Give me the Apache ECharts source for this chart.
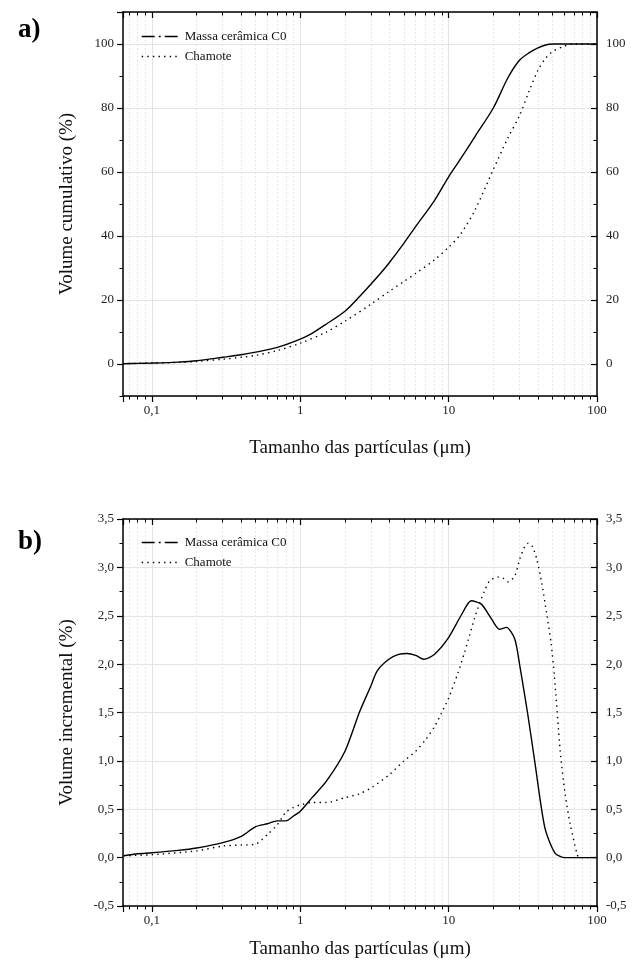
<!DOCTYPE html>
<html><head><meta charset="utf-8">
<script src="https://cdn.jsdelivr.net/npm/echarts@6/dist/echarts.min.js"></script>
<style>html,body{margin:0;padding:0;background:#fff}#c{width:635px;height:966px}</style>
</head><body><div id="c"></div>
<script>
// ---- Data: chart a) cumulative volume (%) ----
const cumC0X = [0.0638,0.08,0.1,0.15,0.2,0.3,0.4,0.5,0.7,1,1.2,1.5,2,2.5,3,3.5,4,5,6,8,10,12,15,20,25,30,35,40,45,50,60,70,100];
const cumC0Y = [0.1,0.2,0.3,0.6,1.0,2.1,2.9,3.7,5.2,7.8,9.6,12.5,16.5,21,25,28.5,31.8,37.8,43,51,58.5,64,71,80,89.3,94.9,97.3,98.8,99.7,100,100,100,100];
const cumChX = [0.0638,0.08,0.1,0.15,0.2,0.3,0.4,0.5,0.7,1,1.5,2,3,4,5,6,8,10,12,15,20,25,30,35,40,45,50,60,70,100];
const cumChY = [0.1,0.2,0.3,0.5,0.8,1.5,2.1,2.7,4.2,6.5,10,13.4,18.7,22.8,25.8,28.3,32.5,36.5,40.5,48,60.8,70.5,77.6,85.5,91.8,95.5,97.6,99.3,100,100];
// ---- Data: chart b) incremental volume (%) ----
const incC0X = [0.0645,0.08,0.1,0.15,0.2,0.3,0.4,0.5,0.6,0.7,0.8,0.9,1,1.2,1.5,2,2.5,3,3.3,3.95,4.6,5.25,6,6.8,8,9.85,12.1,14.2,16.6,19.4,22,24.5,27.9,30.2,34,38,44.5,52,60,100];
const incC0Y = [0.02,0.04,0.05,0.075,0.10,0.155,0.22,0.32,0.35,0.38,0.38,0.43,0.48,0.62,0.79,1.10,1.5,1.78,1.93,2.05,2.10,2.11,2.09,2.05,2.10,2.26,2.50,2.655,2.62,2.47,2.36,2.38,2.26,1.98,1.5,1.0,0.31,0.05,0.0,0.0];
const incChX = [0.0645,0.1,0.2,0.3,0.4,0.5,0.6,0.7,0.8,0.9,1,1.2,1.5,2,2.5,3,4,5,6,7,8,9,10,11.5,12.8,13.8,14.9,16.1,17.5,18.9,21.5,23.2,25.1,27.9,30.2,32.7,34.4,36.6,39.2,42.4,45.7,49,51.6,56.5,61,66,73.6,76,100];
const incChY = [0.02,0.03,0.07,0.12,0.13,0.14,0.24,0.34,0.47,0.52,0.545,0.57,0.57,0.62,0.66,0.72,0.86,1.0,1.10,1.22,1.35,1.5,1.65,1.90,2.12,2.29,2.47,2.62,2.76,2.86,2.90,2.89,2.85,2.91,3.09,3.22,3.25,3.22,3.09,2.84,2.53,2.22,1.88,1.10,0.655,0.345,0.03,0,0];
// ---- Texts ----
const seriesNames = ['Massa cerâmica C0','Chamote'];
const xName = 'Tamanho das partículas (μm)';
const yNameA = 'Volume cumulativo (%)';
const yNameB = 'Volume incremental (%)';
const panelLabels = ['a)','b)'];

const FONT = 'Liberation Serif';
const zip = (xs, ys) => xs.map((x, i) => [x, ys[i]]);
const xFmt = v => { const l = Math.log10(v); if (Math.abs(l - Math.round(l)) > 1e-6) return ''; return v < 1 ? String(+v.toFixed(3)).replace('.', ',') : String(Math.round(v)); };
const BLACK = '#000';

function xAxes(gi, gap) {
  const base = {type:'log', logBase:10, min:0.0638, max:100, gridIndex:gi,
    axisLine:{show:true, onZero:false, lineStyle:{color:BLACK, width:1.5}},
    minorTick:{show:true, splitNumber:9, length:3.5, lineStyle:{color:BLACK, width:1}}};
  return [
    Object.assign({}, base, {position:'bottom', name:xName, nameLocation:'middle', nameGap:gap,
      nameTextStyle:{fontFamily:FONT, fontSize:19, color:'#111'},
      axisTick:{show:true, inside:false, length:6, lineStyle:{color:BLACK, width:1.2}},
      axisLabel:{show:true, showMinLabel:false, formatter:xFmt, fontFamily:FONT, fontSize:13, color:'#222', margin:8},
      splitLine:{show:true, lineStyle:{color:'#e3e3e3', width:1}},
      minorSplitLine:{show:true, lineStyle:{color:'#e6e6e6', width:1, type:[2,2]}}}),
    Object.assign({}, base, {position:'top',
      axisTick:{show:true, inside:true, length:6, lineStyle:{color:BLACK, width:1.2}},
      axisLabel:{show:false}, splitLine:{show:false}})
  ];
}
// main y axes (labels, major ticks, grid lines)
function yAxes(gi, min, max, scaleOpt, name, fmt, minor) {
  const base = Object.assign({type:'value', min, max, gridIndex:gi,
    axisLine:{show:true, lineStyle:{color:BLACK, width:1.5}},
    axisLabel:{show:true, fontFamily:FONT, fontSize:13, color:'#222', margin:9, formatter:fmt,
      showMinLabel:scaleOpt.showMin, showMaxLabel:true},
    minorTick:{show:minor, splitNumber:2, length:3.5, lineStyle:{color:BLACK, width:1}}}, scaleOpt.opt);
  return [
    Object.assign({}, base, {position:'left', name, nameLocation:'middle', nameGap:46,
      nameTextStyle:{fontFamily:FONT, fontSize:19, color:'#111'},
      axisTick:{show:true, inside:false, length:6, lineStyle:{color:BLACK, width:1.2}},
      splitLine:{show:true, lineStyle:{color:'#e3e3e3', width:1}}}),
    Object.assign({}, base, {position:'right',
      axisTick:{show:true, inside:true, length:6, lineStyle:{color:BLACK, width:1.2}},
      splitLine:{show:false}})
  ];
}
// extra y axes used only for the minor ticks of chart a (every 10 units)
function minorYAxes(gi, min, max, interval) {
  const base = {type:'value', min, max, interval, gridIndex:gi,
    axisLine:{show:false}, axisLabel:{show:false}, splitLine:{show:false}};
  return [
    Object.assign({}, base, {position:'left', axisTick:{show:true, inside:false, length:3.5, lineStyle:{color:BLACK, width:1}}}),
    Object.assign({}, base, {position:'right', axisTick:{show:true, inside:true, length:3.5, lineStyle:{color:BLACK, width:1}}})
  ];
}
const fmtA = v => (v < 0 || v > 100 ? '' : String(v));
const fmtB = v => (v > 3.5 ? '' : v.toFixed(1).replace('.', ','));

const solid = {color:BLACK, width:1.4, type:'solid'};
const dotted = {color:BLACK, width:1.4, type:[1.4, 4.2]};
const noSymbol = {color:'rgba(0,0,0,0)', opacity:0, borderWidth:0};
function legend(top) {
  return {left:136, top, orient:'vertical', itemWidth:38, itemHeight:10, itemGap:7,
    textStyle:{fontFamily:FONT, fontSize:13, color:'#111'},
    itemStyle:noSymbol,
    data:[{name:seriesNames[0], itemStyle:noSymbol, lineStyle:{type:[13,4,2,4], width:1.4, color:BLACK}},
          {name:seriesNames[1], itemStyle:noSymbol, lineStyle:{type:[1.4,4.2], width:1.4, color:BLACK}}]};
}

const option = {
  animation:false, backgroundColor:'#fff',
  color:[BLACK, BLACK],
  title:[
    {text:panelLabels[0], left:13, top:12, textStyle:{fontFamily:FONT, fontWeight:'bold', fontSize:27, color:BLACK}},
    {text:panelLabels[1], left:13, top:524, textStyle:{fontFamily:FONT, fontWeight:'bold', fontSize:27, color:BLACK}}
  ],
  legend:[legend(25), legend(531)],
  grid:[{left:123, right:38, top:12, height:384}, {left:123, right:38, top:519, height:387}],
  xAxis:[...xAxes(0, 43), ...xAxes(1, 34)],
  yAxis:[
    ...yAxes(0, -10, 110, {showMin:false, opt:{splitNumber:6}}, yNameA, fmtA, false),
    ...yAxes(1, -0.5, 3.5, {showMin:true, opt:{interval:0.5}}, yNameB, fmtB, true),
    ...minorYAxes(0, -10, 110, 10)
  ],
  series:[
    {name:seriesNames[0], type:'line', xAxisIndex:0, yAxisIndex:0, data:zip(cumC0X, cumC0Y), symbol:'none', smooth:0.3, lineStyle:solid, itemStyle:{color:BLACK}},
    {name:seriesNames[1], type:'line', xAxisIndex:0, yAxisIndex:0, data:zip(cumChX, cumChY), symbol:'none', smooth:0.3, lineStyle:dotted, itemStyle:{color:BLACK}},
    {name:seriesNames[0], type:'line', xAxisIndex:2, yAxisIndex:2, data:zip(incC0X, incC0Y), symbol:'none', smooth:0.25, lineStyle:solid, itemStyle:{color:BLACK}},
    {name:seriesNames[1], type:'line', xAxisIndex:2, yAxisIndex:2, data:zip(incChX, incChY), symbol:'none', smooth:0.25, lineStyle:dotted, itemStyle:{color:BLACK}}
  ]
};
const chart = echarts.init(document.getElementById('c'), null, {renderer:'canvas'});
chart.setOption(option);
</script></body></html>
